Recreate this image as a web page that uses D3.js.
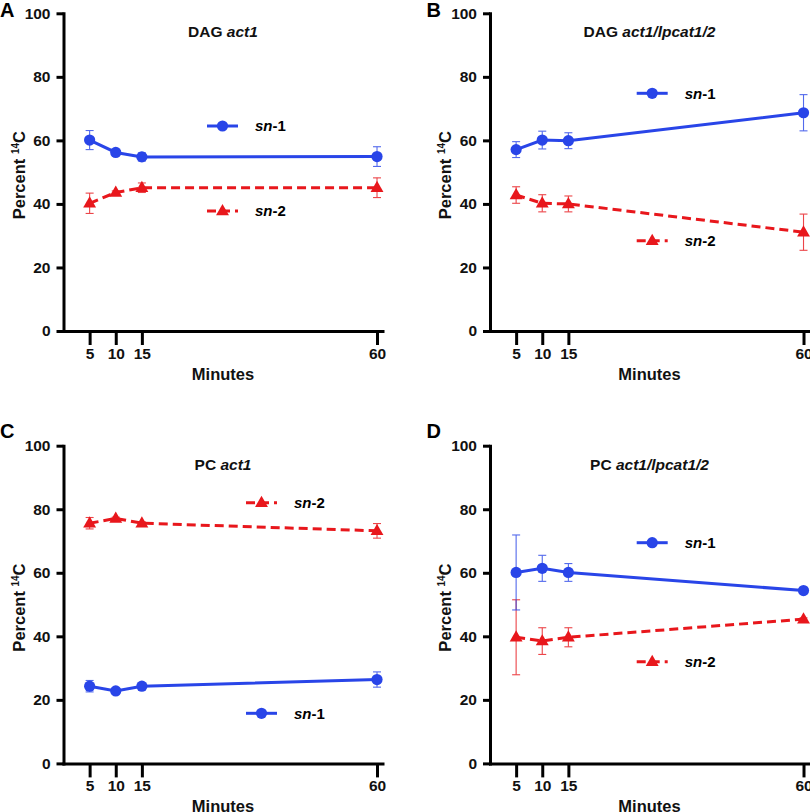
<!DOCTYPE html>
<html>
<head>
<meta charset="utf-8">
<script src="https://cdn.jsdelivr.net/npm/d3@7"></script>
<style>
  body { margin: 0; background: #fff; }
  svg { font-family: "Liberation Sans", Arial, sans-serif; font-weight: bold; }
</style>
</head>
<body>
<svg id="chart" width="810" height="812"></svg>
<script>
// minutes sampled
var minutes = [5, 10, 15, 60];
var yTicks = [0, 20, 40, 60, 80, 100];

// percent 14C (mean and error half-width)
var dagAct1Sn1 = [60.1, 56.2, 54.8, 54.9];
var dagAct1Sn1Err = [3.0, 0.5, 1.3, 3.1];
var dagAct1Sn2 = [40.2, 43.6, 45.1, 45.1];
var dagAct1Sn2Err = [3.2, 0.5, 1.5, 3.1];

var dagLpcatSn1 = [57.1, 60.1, 59.9, 68.7];
var dagLpcatSn1Err = [2.5, 2.8, 2.5, 5.7];
var dagLpcatSn2 = [42.8, 40.2, 40.0, 31.1];
var dagLpcatSn2Err = [2.6, 2.7, 2.5, 5.7];

var pcAct1Sn1 = [24.3, 22.8, 24.3, 26.4];
var pcAct1Sn1Err = [1.8, 0.4, 0.4, 2.4];
var pcAct1Sn2 = [75.6, 77.1, 75.6, 73.2];
var pcAct1Sn2Err = [1.8, 0.4, 0.4, 2.3];

var pcLpcatSn1 = [60.1, 61.4, 60.1, 54.4];
var pcLpcatSn1Err = [11.8, 4.1, 2.8, 0.4];
var pcLpcatSn2 = [39.7, 38.5, 39.7, 45.4];
var pcLpcatSn2Err = [11.8, 4.2, 3.0, 0.4];

var BLUE = '#2945e8';
var RED = '#e8171c';

// layout of the four panels (pixels)
var panels = [
  { letter: 'A', lipid: 'DAG ', strain: 'act1', left: 63.5, top: 13.3,
    sn1: dagAct1Sn1, sn1Err: dagAct1Sn1Err, sn2: dagAct1Sn2, sn2Err: dagAct1Sn2Err,
    leg1: { x: 143.5, y: 112.7 }, leg2: { x: 143.5, y: 197.7 } },
  { letter: 'B', lipid: 'DAG ', strain: 'act1/lpcat1/2', left: 490, top: 13.3,
    sn1: dagLpcatSn1, sn1Err: dagLpcatSn1Err, sn2: dagLpcatSn2, sn2Err: dagLpcatSn2Err,
    leg1: { x: 146.7, y: 80 }, leg2: { x: 146.7, y: 227.4 } },
  { letter: 'C', lipid: 'PC ', strain: 'act1', left: 63.5, top: 445.7,
    sn1: pcAct1Sn1, sn1Err: pcAct1Sn1Err, sn2: pcAct1Sn2, sn2Err: pcAct1Sn2Err,
    leg1: { x: 182.5, y: 267.6 }, leg2: { x: 182.5, y: 57 } },
  { letter: 'D', lipid: 'PC ', strain: 'act1/lpcat1/2', left: 490, top: 445.7,
    sn1: pcLpcatSn1, sn1Err: pcLpcatSn1Err, sn2: pcLpcatSn2, sn2Err: pcLpcatSn2Err,
    leg1: { x: 146.7, y: 97 }, leg2: { x: 146.7, y: 216 } }
];

var plotW = 319, plotH = 317.7;
var svg = d3.select('#chart');

var triangle = d3.symbol().type(d3.symbolTriangle).size(72);

var drawMarker = function(g, kind, color, x, y){
  if(kind === 'circle'){
    g.append('circle').attr('cx', x).attr('cy', y).attr('r', 5.6).attr('fill', color);
  } else {
    g.append('path').attr('d', triangle())
      .attr('transform', 'translate(' + x + ',' + (y + 0.5) + ')')
      .attr('fill', color);
  }
};

var drawSeries = function(g, x, y, values, errs, color, kind, dashed){
  var pts = minutes.map(function(m, i){ return { m: m, v: values[i], e: errs[i] }; });

  // error bars
  var eb = g.append('g').attr('stroke', color).attr('stroke-width', 1.1).attr('opacity', 0.8);
  pts.forEach(function(p){
    var cx = x(p.m);
    eb.append('line').attr('x1', cx).attr('x2', cx).attr('y1', y(p.v - p.e)).attr('y2', y(p.v + p.e));
    [p.v - p.e, p.v + p.e].forEach(function(val){
      eb.append('line').attr('x1', cx - 4).attr('x2', cx + 4).attr('y1', y(val)).attr('y2', y(val));
    });
  });

  var line = d3.line().x(function(p){ return x(p.m); }).y(function(p){ return y(p.v); });
  g.append('path').datum(pts)
    .attr('d', line)
    .attr('fill', 'none')
    .attr('stroke', color)
    .attr('stroke-width', 3)
    .attr('stroke-dasharray', dashed ? '9,5' : null);

  pts.forEach(function(p){ drawMarker(g, kind, color, x(p.m), y(p.v)); });
};

var drawLegend = function(g, pos, label, color, kind, dashed){
  g.append('line')
    .attr('x1', pos.x).attr('x2', pos.x + 31)
    .attr('y1', pos.y).attr('y2', pos.y)
    .attr('stroke', color).attr('stroke-width', 3)
    .attr('stroke-dasharray', dashed ? '9,5' : null);
  drawMarker(g, kind, color, pos.x + 15.5, pos.y);
  var t = g.append('text')
    .attr('x', pos.x + 48).attr('y', pos.y + 5.5)
    .attr('font-size', 15);
  t.append('tspan').attr('font-style', 'italic').text('sn');
  t.append('tspan').text(label);
};

panels.forEach(function(p){
  var x = d3.scaleLinear().domain([0, 61.05]).range([p.left, p.left + plotW]);
  var y = d3.scaleLinear().domain([0, 100]).range([p.top + plotH, p.top]);
  var g = svg.append('g');

  // axes
  var yAxis = g.append('g')
    .attr('transform', 'translate(' + p.left + ',0)')
    .call(d3.axisLeft(y).tickValues(yTicks).tickSize(7).tickSizeOuter(0).tickPadding(6));
  var xAxis = g.append('g')
    .attr('transform', 'translate(0,' + (p.top + plotH) + ')')
    .call(d3.axisBottom(x).tickValues(minutes).tickSize(14).tickSizeOuter(0).tickPadding(3));
  [yAxis, xAxis].forEach(function(a){
    a.select('.domain').attr('stroke', '#000').attr('stroke-width', 3).attr('stroke-linecap', 'square');
    a.selectAll('.tick line').attr('stroke', '#000').attr('stroke-width', 3);
    a.selectAll('.tick text').attr('fill', '#111').attr('font-size', 15.5)
      .attr('font-family', '"Liberation Sans", Arial, sans-serif').attr('font-weight', 'bold');
  });

  // axis titles
  g.append('text')
    .attr('x', p.left + plotW / 2).attr('y', p.top + plotH + 49)
    .attr('text-anchor', 'middle').attr('font-size', 16.5).attr('fill', '#111')
    .text('Minutes');
  var yl = g.append('text')
    .attr('transform', 'translate(' + (p.left - 39) + ',' + (p.top + plotH / 2 + 3) + ') rotate(-90)')
    .attr('text-anchor', 'middle').attr('font-size', 16.5).attr('fill', '#111');
  yl.append('tspan').text('Percent ');
  yl.append('tspan').attr('font-size', 10).attr('dy', -6).text('14');
  yl.append('tspan').attr('dy', 6).text('C');

  // panel title and letter
  var title = g.append('text')
    .attr('x', p.left + plotW / 2).attr('y', p.top + 24)
    .attr('text-anchor', 'middle').attr('font-size', 15.5).attr('fill', '#111');
  title.append('tspan').text(p.lipid);
  title.append('tspan').attr('font-style', 'italic').text(p.strain);
  g.append('text')
    .attr('x', p.left - 63.5).attr('y', p.top + (p.top > 100 ? -8 : 4))
    .attr('font-size', 20).attr('fill', '#000')
    .text(p.letter);

  drawSeries(g, x, y, p.sn2, p.sn2Err, RED, 'triangle', true);
  drawSeries(g, x, y, p.sn1, p.sn1Err, BLUE, 'circle', false);

  var lg = g.append('g').attr('transform', 'translate(' + p.left + ',' + p.top + ')');
  drawLegend(lg, p.leg1, '-1', BLUE, 'circle', false);
  drawLegend(lg, p.leg2, '-2', RED, 'triangle', true);
});
</script>
</body>
</html>
